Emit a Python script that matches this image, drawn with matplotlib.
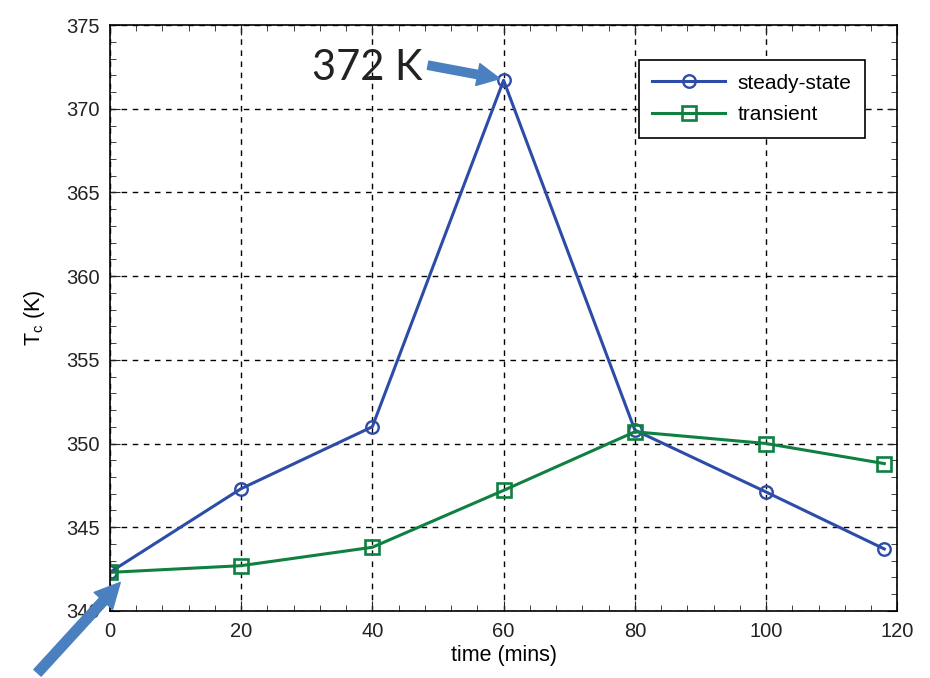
import numpy as np
import matplotlib.pyplot as plt
from matplotlib.ticker import MultipleLocator

# tiempos (min) y temperaturas
time_mins = [0, 20, 40, 60, 80, 100, 118]
steady_state = [342.3, 347.3, 351.0, 371.7, 350.8, 347.1, 343.7]
transient = [342.3, 342.7, 343.8, 347.2, 350.7, 350.0, 348.8]

x_ticks = [0, 20, 40, 60, 80, 100, 120]
y_ticks = [340, 345, 350, 355, 360, 365, 370, 375]

blue = "#2d4ca8"
green = "#0f8040"
arrow_col = "#4a7fc0"

plt.rcParams["font.family"] = ["Liberation Sans", "DejaVu Sans"]

fig = plt.figure(figsize=(9.3, 6.78), dpi=100)
ax = fig.add_axes([0.118, 0.099, 0.847, 0.864])

ax.plot(time_mins, steady_state, color=blue, linewidth=2.2, marker="o",
        markersize=9, markerfacecolor="none", markeredgewidth=1.7, label="steady-state")
ax.plot(time_mins, transient, color=green, linewidth=2.2, marker="s",
        markersize=10, markerfacecolor="none", markeredgewidth=1.9, label="transient")

ax.set_xlim(0, 120)
ax.set_ylim(340, 375)
ax.set_xticks(x_ticks)
ax.set_yticks(y_ticks)
ax.xaxis.set_minor_locator(MultipleLocator(4))
ax.yaxis.set_minor_locator(MultipleLocator(1))
ax.tick_params(which="both", direction="in", top=True, right=True, labelsize=14.5,
               colors="#222222")
ax.tick_params(which="major", length=7)
ax.tick_params(which="minor", length=4)
ax.tick_params(axis="x", pad=8)
ax.tick_params(axis="y", pad=7)
ax.grid(True, which="major", color="black", linestyle=(0, (4, 4)), linewidth=1)
for s in ax.spines.values():
    s.set_linewidth(1.2)

ax.set_xlabel("time (mins)", fontsize=15.5, labelpad=3)
ax.set_ylabel("T$_\\mathregular{c}$ (K)", fontsize=15.5, labelpad=14)

leg = ax.legend(loc="upper right", bbox_to_anchor=(0.972, 0.958), fontsize=15,
                fancybox=False, edgecolor="black", framealpha=1, handlelength=3.5,
                borderpad=0.65, labelspacing=0.6, handletextpad=0.6)
leg.get_frame().set_linewidth(1.2)

# texto y flecha al maximo
ax.text(39.3, 372.45, "372 K", fontsize=30, family="Lato", ha="center", va="center",
        color="#222222")
ax.annotate("", xy=(time_mins[3] - 0.6, steady_state[3] + 0.1), xytext=(48.5, 372.6),
            arrowprops=dict(arrowstyle="simple,head_length=0.8,head_width=0.8,tail_width=0.3",
                            color=arrow_col, shrinkA=0, shrinkB=0, mutation_scale=20))

# flecha abajo a la izquierda
ax.annotate("", xy=(time_mins[0] + 1.6, transient[0] - 0.6), xytext=(-11, 336.3),
            annotation_clip=False,
            arrowprops=dict(arrowstyle="simple,head_length=0.9,head_width=0.9,tail_width=0.35",
                            color=arrow_col, shrinkA=0, shrinkB=0, mutation_scale=20))

fig.savefig("out.png", dpi=100)
